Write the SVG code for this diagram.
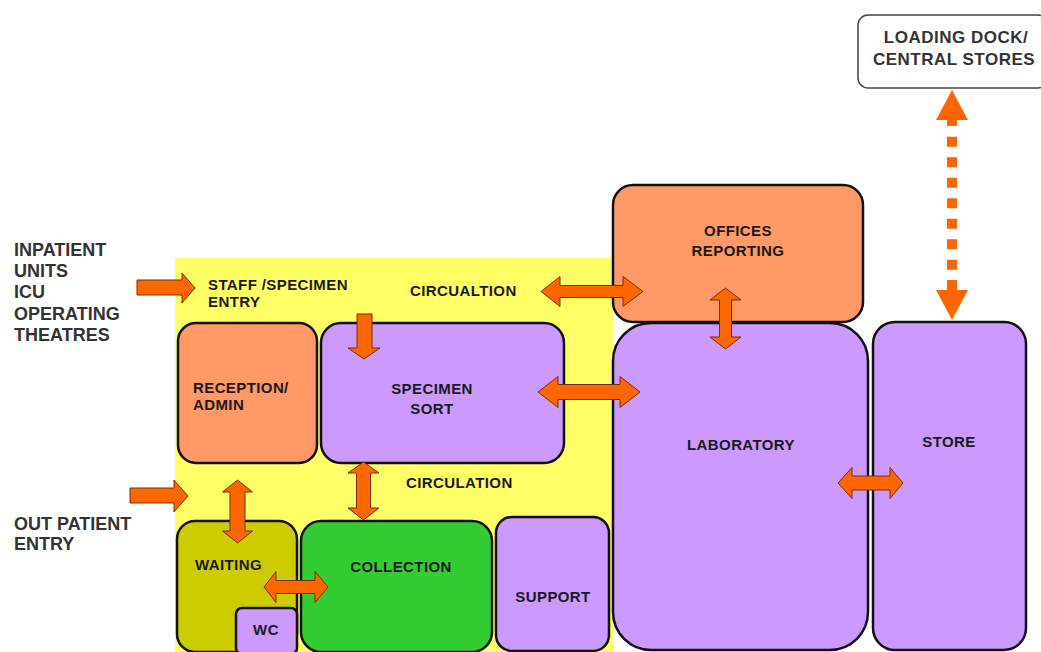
<svg xmlns="http://www.w3.org/2000/svg" width="1041" height="652" viewBox="0 0 1041 652">
<style>
.box{stroke:#111;stroke-width:2.5}
.sal{fill:#FF9966}
.pur{fill:#CC99FF}
.lbl{font-family:"Liberation Sans",Arial,sans-serif;font-weight:bold;font-size:15px;fill:#1a1a1a;letter-spacing:0.4px}
.side{font-family:"Liberation Sans",Arial,sans-serif;font-weight:bold;font-size:18px;fill:#333}
.dock{font-family:"Liberation Sans",Arial,sans-serif;font-weight:bold;font-size:17px;fill:#333;letter-spacing:0.5px}
.arr{fill:#FF6600;stroke:#7a2e00;stroke-width:1}
.arrp{fill:#FF6600}
</style>
<rect width="1041" height="652" fill="#fff"/>
<rect id="circulation-area" x="175" y="258" width="438" height="394" fill="#FFFF66"/>

<g id="side-labels">
<text class="side" x="14" y="256">INPATIENT</text>
<text class="side" x="14" y="277">UNITS</text>
<text class="side" x="14" y="298">ICU</text>
<text class="side" x="14" y="319.5">OPERATING</text>
<text class="side" x="14" y="341">THEATRES</text>
<text class="side" x="14" y="530">OUT PATIENT</text>
<text class="side" x="14" y="550">ENTRY</text>
</g>

<g id="circulation-labels">
<text class="lbl" x="208" y="290">STAFF /SPECIMEN</text>
<text class="lbl" x="208" y="307">ENTRY</text>
<text class="lbl" x="410" y="296">CIRCUALTION</text>
<text class="lbl" x="406" y="488">CIRCULATION</text>
</g>

<g id="loading-dock">
<rect x="858" y="15" width="190" height="73" rx="10" fill="#fff" stroke="#444" stroke-width="1.5"/>
<text class="dock" x="956" y="43" text-anchor="middle">LOADING DOCK/</text>
<text class="dock" x="954" y="65" text-anchor="middle">CENTRAL STORES</text>
</g>

<g id="laboratory">
<rect class="box pur" x="613" y="323" width="255" height="327" rx="38"/>
<text class="lbl" x="741" y="450" text-anchor="middle">LABORATORY</text>
</g>
<g id="offices">
<rect class="box sal" x="613" y="185" width="250" height="137" rx="20"/>
<text class="lbl" x="738" y="236" text-anchor="middle">OFFICES</text>
<text class="lbl" x="738" y="256" text-anchor="middle">REPORTING</text>
</g>
<g id="store">
<rect class="box pur" x="873" y="322" width="153" height="328" rx="22"/>
<text class="lbl" x="949" y="447" text-anchor="middle">STORE</text>
</g>
<g id="reception">
<rect class="box sal" x="178" y="323" width="139" height="140" rx="18"/>
<text class="lbl" x="193" y="393">RECEPTION/</text>
<text class="lbl" x="193" y="410">ADMIN</text>
</g>
<g id="specimen-sort">
<rect class="box pur" x="321" y="323" width="243" height="140" rx="20"/>
<text class="lbl" x="432" y="394" text-anchor="middle">SPECIMEN</text>
<text class="lbl" x="432" y="414" text-anchor="middle">SORT</text>
</g>
<g id="waiting">
<rect class="box" fill="#CCCC00" x="177" y="521" width="120" height="131" rx="18"/>
<text class="lbl" x="195" y="570">WAITING</text>
</g>
<g id="wc">
<rect class="box pur" x="236" y="608" width="61" height="46" rx="6"/>
<text class="lbl" x="266" y="635" text-anchor="middle">WC</text>
</g>
<g id="collection">
<rect class="box" fill="#33CC33" x="301" y="521" width="191" height="131" rx="20"/>
<text class="lbl" x="401" y="572" text-anchor="middle">COLLECTION</text>
</g>
<g id="support">
<rect class="box pur" x="496" y="517" width="113" height="134" rx="16"/>
<text class="lbl" x="553" y="602" text-anchor="middle">SUPPORT</text>
</g>

<g id="connectors">
<polygon class="arr" points="137,280 182,280 182,273 195,288 182,303 182,295 137,295"/>
<polygon class="arr" points="130,488 174,488 174,480 188,496 174,512 174,503 130,503"/>
<polygon class="arr" points="357,314 372,314 372,348 380,348 364,359 348,348 357,348"/>
<polygon class="arr" points="538,392 558,376.5 558,384.5 620,384.5 620,376.5 640,392 620,407.5 620,399.5 558,399.5 558,407.5"/>
<polygon class="arr" points="541,291.5 560,276.5 560,285.5 623,285.5 623,276.5 643,291.5 623,306.5 623,297.5 560,297.5 560,306.5"/>
<polygon class="arr" points="264,587 276,571.5 276,580.5 315,580.5 315,571.5 328,587 315,602.5 315,593.5 276,593.5 276,602.5"/>
<polygon class="arr" points="838,483 852,467.5 852,476 890,476 890,467.5 903,483 890,498.5 890,490 852,490 852,498.5"/>
<polygon class="arr" points="725.5,288 741,300 731.5,300 731.5,337 741,337 725.5,349 710,337 719.5,337 719.5,300 710,300"/>
<polygon class="arr" points="363.5,462 379,473 370.5,473 370.5,508 379,508 363.5,520 348,508 356.5,508 356.5,473 348,473"/>
<polygon class="arr" points="237.5,480 252.5,492 245,492 245,531 252.5,531 237.5,543 222.5,531 230,531 230,492 222.5,492"/>
<polygon class="arrp" points="952,90 968,120 957,120 957,126 947,126 947,120 936,120"/>
<line x1="952" y1="136.7" x2="952" y2="270" stroke="#FF6600" stroke-width="10" stroke-dasharray="10 10.5"/>
<polygon class="arrp" points="947,280 957,280 957,290 968,290 952,320 936,290 947,290"/>
</g>
</svg>
